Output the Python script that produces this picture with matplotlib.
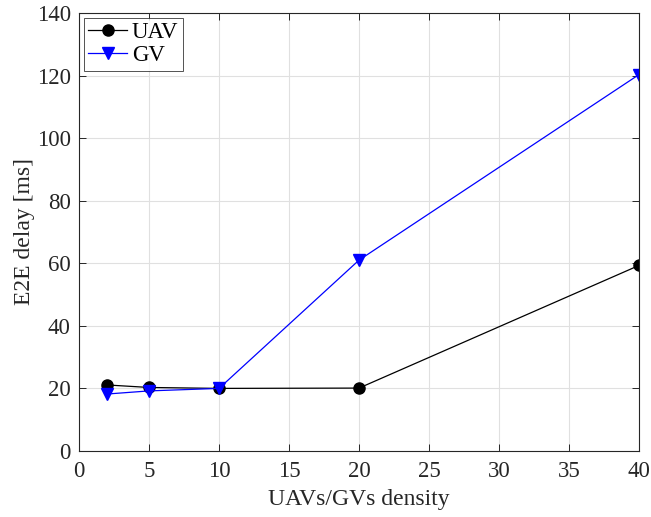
import matplotlib
matplotlib.use("Agg")
import matplotlib.pyplot as plt

plt.rcParams['font.family'] = ['Liberation Serif', 'DejaVu Serif']
plt.rcParams['mathtext.fontset'] = 'stix'

density = [2, 5, 10, 20, 40]
uav_delay = [21.1, 20.3, 20.0, 20.1, 59.3]
gv_delay = [18.2, 19.2, 20.0, 61.0, 120.3]

x_ticks = [0, 5, 10, 15, 20, 25, 30, 35, 40]
y_ticks = [0, 20, 40, 60, 80, 100, 120, 140]

fig = plt.figure(figsize=(6.51, 5.17), dpi=100)
ax = fig.add_axes([0.1214, 0.1277, 0.8602, 0.8473])

ax.plot(density, uav_delay, color='black', marker='o', markersize=8,
        linewidth=0.9, label='UAV')
ax.plot(density, gv_delay, color='#0000ff', marker='v', markersize=8.5,
        linewidth=0.9, label='GV')

ax.set_xlim(0, 40)
ax.set_ylim(0, 140)
ax.set_xticks(x_ticks)
ax.set_yticks(y_ticks)
ax.grid(True, color='#e0e0e0', linewidth=0.8)
ax.set_axisbelow(True)
ax.tick_params(direction='in', top=True, right=True, labelsize=16.5,
               length=5, width=0.7, colors='#262626', labelcolor='#262626')
ax.tick_params(axis='x', pad=7)
ax.tick_params(axis='y', pad=6)
for s in ax.spines.values():
    s.set_linewidth(0.8)
    s.set_color('#262626')

ax.set_xlabel('UAVs/GVs density', fontsize=17, color='#262626', labelpad=5)
ax.set_ylabel('E2E delay [ms]', fontsize=17, color='#262626', labelpad=1)

leg = ax.legend(loc='upper left', fontsize=16.5, frameon=True, fancybox=False,
                edgecolor='#262626', handlelength=1.7, borderpad=0.2,
                labelspacing=0.1, handletextpad=0.2, borderaxespad=0.2)
leg.get_frame().set_linewidth(0.7)

fig.savefig('out.png', dpi=100)
